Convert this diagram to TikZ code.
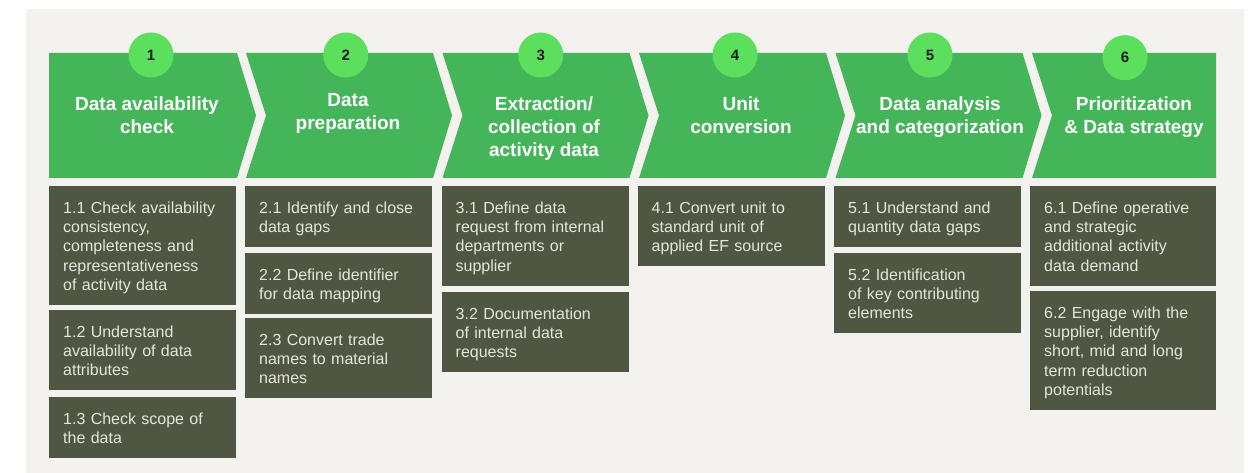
\documentclass[tikz,border=0pt]{standalone}
\usepackage{fontspec}
\setmainfont{Liberation Sans}
\definecolor{bgcol}{HTML}{F3F2EE}
\definecolor{chevcol}{HTML}{45B55A}
\definecolor{numcol}{HTML}{5CDF5C}
\definecolor{taskcol}{HTML}{4F5641}
\definecolor{tasktextcol}{HTML}{E6E6DE}
\newcommand\taskstrut{\rule[-3.5bp]{0pt}{19.3bp}}
\newcommand\titlestrut{\rule{0pt}{15bp}}
\begin{document}
\begin{tikzpicture}[>=latex,line join=bevel,
  numdot/.style={circle,fill=numcol,minimum size=45bp,inner sep=0pt,text=black!90,
    font=\bfseries\fontsize{15bp}{18bp}\selectfont},
  steptitle/.style={anchor=north,inner sep=0pt,align=center,text=white,
    font=\bfseries\fontsize{19bp}{22.7bp}\selectfont,execute at begin node=\titlestrut},
  taskbox/.style={anchor=north west,fill=taskcol,text=tasktextcol,text width=159bp,align=left,
    inner xsep=14bp,inner ysep=11.2bp,font=\fontsize{16bp}{19.3bp}\selectfont,
    execute at begin node=\taskstrut,execute at end node=\taskstrut},
]
  \useasboundingbox (0bp,0bp) rectangle (1253bp,473bp);
%%
  % Background
  \fill [bgcol] (25.5bp,0bp) rectangle (1244bp,464bp);
  % Node: Step1
\begin{scope}
  \fill [chevcol] (49bp,420bp) -- (237bp,420bp) -- (256bp,357.5bp) -- (237bp,295bp) -- (49bp,295bp) -- cycle;
  \node [numdot] (Num1) at (151bp,418bp) {1};
  \node [steptitle] (Title1) at (147bp,376.3bp) {Data availability\\check};
\end{scope}
  % Node: Step2
\begin{scope}
  \fill [chevcol] (246bp,420bp) -- (433bp,420bp) -- (452bp,357.5bp) -- (433bp,295bp) -- (246bp,295bp) -- (266bp,357.5bp) -- cycle;
  \node [numdot] (Num2) at (345.7bp,418bp) {2};
  \node [steptitle] (Title2) at (348bp,379.7bp) {Data\\preparation};
\end{scope}
  % Node: Step3
\begin{scope}
  \fill [chevcol] (442.5bp,420bp) -- (629.5bp,420bp) -- (648.5bp,357.5bp) -- (629.5bp,295bp) -- (442.5bp,295bp) -- (462.5bp,357.5bp) -- cycle;
  \node [numdot] (Num3) at (540.7bp,418bp) {3};
  \node [steptitle] (Title3) at (544bp,376.3bp) {Extraction/\\collection of\\activity data};
\end{scope}
  % Node: Step4
\begin{scope}
  \fill [chevcol] (639bp,420bp) -- (826bp,420bp) -- (845bp,357.5bp) -- (826bp,295bp) -- (639bp,295bp) -- (659bp,357.5bp) -- cycle;
  \node [numdot] (Num4) at (735bp,418bp) {4};
  \node [steptitle] (Title4) at (741bp,376.3bp) {Unit\\conversion};
\end{scope}
  % Node: Step5
\begin{scope}
  \fill [chevcol] (835.5bp,420bp) -- (1022.5bp,420bp) -- (1041.5bp,357.5bp) -- (1022.5bp,295bp) -- (835.5bp,295bp) -- (855.5bp,357.5bp) -- cycle;
  \node [numdot] (Num5) at (930bp,418bp) {5};
  \node [steptitle] (Title5) at (940bp,376.3bp) {Data analysis\\and categorization};
\end{scope}
  % Node: Step6
\begin{scope}
  \fill [chevcol] (1032bp,420bp) -- (1216bp,420bp) -- (1216bp,295bp) -- (1032bp,295bp) -- (1052bp,357.5bp) -- cycle;
  \node [numdot] (Num6) at (1125bp,415.3bp) {6};
  \node [steptitle] (Title6) at (1134bp,376.3bp) {Prioritization\\\& Data strategy};
\end{scope}
  % Tasks: Step1
  \node [taskbox] (Task11) at (49bp,287bp) {1.1 Check availability\\consistency,\\completeness and\\representativeness\\of activity data};
  \node [taskbox] (Task12) at (49bp,163bp) {1.2 Understand\\availability of data\\attributes};
  \node [taskbox] (Task13) at (49bp,76bp) {1.3 Check scope of\\the data};
  % Tasks: Step2
  \node [taskbox] (Task21) at (245bp,287bp) {2.1 Identify and close\\data gaps};
  \node [taskbox] (Task22) at (245bp,220bp) {2.2 Define identifier\\for data mapping};
  \node [taskbox] (Task23) at (245bp,155bp) {2.3 Convert trade\\names to material\\names};
  % Tasks: Step3
  \node [taskbox] (Task31) at (441.5bp,287bp) {3.1 Define data\\request from internal\\departments or\\supplier};
  \node [taskbox] (Task32) at (441.5bp,181bp) {3.2 Documentation\\of internal data\\requests};
  % Tasks: Step4
  \node [taskbox] (Task41) at (637.5bp,287bp) {4.1 Convert unit to\\standard unit of\\applied EF source};
  % Tasks: Step5
  \node [taskbox] (Task51) at (834bp,287bp) {5.1 Understand and\\quantity data gaps};
  \node [taskbox] (Task52) at (834bp,220bp) {5.2 Identification\\of key contributing\\elements};
  % Tasks: Step6
  \node [taskbox,text width=158bp] (Task61) at (1030bp,287bp) {6.1 Define operative\\and strategic\\additional activity\\data demand};
  \node [taskbox,text width=158bp] (Task62) at (1030bp,182bp) {6.2 Engage with the\\supplier, identify\\short, mid and long\\term reduction\\potentials};
%
\end{tikzpicture}
\end{document}
